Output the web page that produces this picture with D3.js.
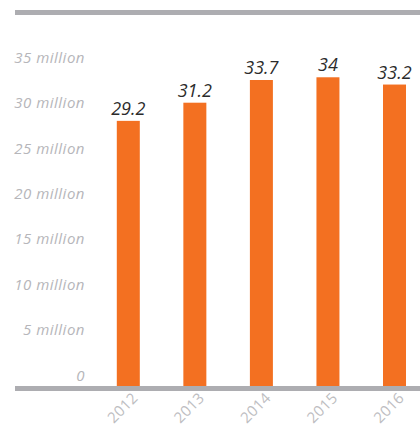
<!DOCTYPE html>
<html>
<head>
<meta charset="utf-8">
<script src="https://cdn.jsdelivr.net/npm/d3@7"></script>
<style>
  html, body { margin: 0; padding: 0; background: #fff; }
  svg { display: block; }
</style>
</head>
<body>
<svg id="chart" width="420" height="426"></svg>
<script>
// Annual totals, in millions
const years = ["2012", "2013", "2014", "2015", "2016"];
const values = [29.2, 31.2, 33.7, 34, 33.2];
const yTicks = [0, 5, 10, 15, 20, 25, 30, 35];
const yTickLabels = ["0", "5 million", "10 million", "15 million", "20 million", "25 million", "30 million", "35 million"];

const svg = d3.select("#chart");
const W = 420;
const baseY = 386;
const gray = "#adadb1";
const orange = "#f37021";
const font = "'Open Sans', sans-serif";

const x = d3.scalePoint().domain(years).range([128.3, 394.5]);
const y = d3.scaleLinear().domain([0, 35]).range([baseY, baseY - 35 * 9.08]);
const barW = 23;

// top rule
svg.append("rect").attr("x", 15).attr("y", 10).attr("width", W - 15).attr("height", 5).attr("fill", gray);

// y axis labels (no line, labels sit just above the tick value)
const yAxis = d3.axisLeft(y)
  .tickValues(yTicks)
  .tickSize(0)
  .tickPadding(0)
  .tickFormat((d, i) => yTickLabels[i]);
const gy = svg.append("g").attr("transform", "translate(85,0)").call(yAxis);
gy.select(".domain").remove();
gy.selectAll("text")
  .attr("dy", "-6")
  .attr("x", 0)
  .attr("text-anchor", "end")
  .attr("font-family", font)
  .attr("font-style", "italic")
  .attr("font-size", 15)
  .attr("letter-spacing", "0.5px")
  .attr("fill", "#b6b6ba");

// bars
svg.append("g").selectAll("rect")
  .data(values)
  .join("rect")
  .attr("x", (d, i) => x(years[i]) - barW / 2)
  .attr("y", d => y(d))
  .attr("width", barW)
  .attr("height", d => baseY - y(d))
  .attr("fill", orange);

// value labels
svg.append("g").selectAll("text")
  .data(values)
  .join("text")
  .attr("x", (d, i) => x(years[i]))
  .attr("y", d => y(d) - 6)
  .attr("text-anchor", "middle")
  .attr("font-family", font)
  .attr("font-style", "italic")
  .attr("font-size", 18)
  .attr("fill", "#2b2b2b")
  .text(d => String(d));

// baseline
svg.append("rect").attr("x", 15).attr("y", baseY).attr("width", W - 15).attr("height", 5).attr("fill", gray);

// x axis labels, rotated
const xAxis = d3.axisBottom(x).tickSize(0).tickPadding(0);
const gx = svg.append("g").attr("transform", `translate(0,${baseY + 5})`).call(xAxis);
gx.select(".domain").remove();
gx.selectAll("text")
  .attr("x", 0).attr("y", 0).attr("dy", null)
  .attr("transform", "translate(10,8) rotate(-45)")
  .attr("text-anchor", "end")
  .attr("font-family", font)
  .attr("font-size", 15)
  .attr("letter-spacing", "0.3px")
  .attr("fill", "#bdbdc1");
</script>
</body>
</html>
